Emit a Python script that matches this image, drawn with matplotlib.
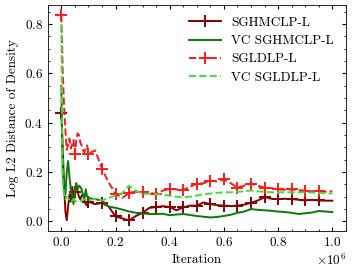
import numpy as np
import matplotlib
matplotlib.use("Agg")
from matplotlib import pyplot as plt
from matplotlib.ticker import AutoMinorLocator

# iteration (in units of 1e6): fine steps early, then every 0.025
iters = [0.000, 0.005, 0.010, 0.015, 0.020, 0.025, 0.030, 0.035, 0.040, 0.045,
         0.050, 0.055, 0.060, 0.065, 0.070, 0.075, 0.080, 0.085, 0.090, 0.095,
         0.100, 0.125, 0.150, 0.175, 0.200, 0.225, 0.250, 0.275, 0.300, 0.325,
         0.350, 0.375, 0.400, 0.425, 0.450, 0.475, 0.500, 0.525, 0.550, 0.575,
         0.600, 0.625, 0.650, 0.675, 0.700, 0.725, 0.750, 0.775, 0.800, 0.825,
         0.850, 0.875, 0.900, 0.925, 0.950, 0.975, 1.000]

sghmc = [0.440, 0.300, 0.150, 0.040, 0.005, 0.060, 0.110, 0.080, 0.140, 0.100,
         0.120, 0.155, 0.120, 0.100, 0.090, 0.105, 0.110, 0.085, 0.070, 0.065,
         0.080, 0.070, 0.075, 0.060, 0.020, 0.012, 0.004, 0.022, 0.035, 0.055,
         0.058, 0.062, 0.058, 0.045, 0.057, 0.064, 0.064, 0.077, 0.070, 0.066,
         0.064, 0.062, 0.064, 0.068, 0.075, 0.085, 0.098, 0.092, 0.090, 0.092,
         0.090, 0.088, 0.085, 0.087, 0.085, 0.084, 0.084]

vc_sghmc = [0.550, 0.200, 0.150, 0.110, 0.200, 0.245, 0.180, 0.130, 0.100, 0.070,
            0.120, 0.150, 0.130, 0.145, 0.140, 0.130, 0.105, 0.090, 0.130, 0.100,
            0.095, 0.090, 0.085, 0.060, 0.055, 0.048, 0.040, 0.035, 0.032, 0.030,
            0.030, 0.031, 0.025, 0.028, 0.030, 0.026, 0.022, 0.019, 0.016, 0.018,
            0.022, 0.027, 0.035, 0.040, 0.050, 0.047, 0.045, 0.043, 0.040, 0.038,
            0.035, 0.030, 0.033, 0.036, 0.042, 0.040, 0.038]

sgld = [0.836, 0.610, 0.470, 0.370, 0.290, 0.310, 0.336, 0.296, 0.310, 0.330,
        0.275, 0.330, 0.357, 0.350, 0.320, 0.308, 0.288, 0.280, 0.296, 0.308,
        0.275, 0.288, 0.214, 0.157, 0.113, 0.095, 0.117, 0.120, 0.118, 0.115,
        0.112, 0.125, 0.132, 0.130, 0.128, 0.140, 0.153, 0.155, 0.165, 0.162,
        0.170, 0.155, 0.137, 0.145, 0.153, 0.145, 0.137, 0.135, 0.130, 0.128,
        0.130, 0.127, 0.125, 0.122, 0.125, 0.120, 0.122]

vc_sgld = [0.800, 0.160, 0.110, 0.090, 0.100, 0.095, 0.085, 0.080, 0.085, 0.090,
           0.085, 0.080, 0.078, 0.080, 0.082, 0.085, 0.088, 0.090, 0.088, 0.085,
           0.085, 0.092, 0.085, 0.095, 0.105, 0.115, 0.145, 0.125, 0.112, 0.112,
           0.110, 0.108, 0.104, 0.100, 0.098, 0.100, 0.105, 0.110, 0.113, 0.116,
           0.118, 0.118, 0.120, 0.122, 0.125, 0.122, 0.120, 0.118, 0.118, 0.118,
           0.118, 0.118, 0.118, 0.117, 0.116, 0.114, 0.113]

labels = ["SGHMCLP-L", "VC SGHMCLP-L", "SGLDLP-L", "VC SGLDLP-L"]

plt.rcParams.update({
    "font.family": "serif",
    "font.serif": ["cmr10"],
    "mathtext.fontset": "cm",
    "axes.unicode_minus": False,
    "axes.formatter.use_mathtext": True,
    "font.size": 9.5,
    "xtick.direction": "in",
    "ytick.direction": "in",
    "xtick.top": True,
    "ytick.right": True,
    "xtick.major.size": 3,
    "ytick.major.size": 3,
    "xtick.minor.size": 1.5,
    "ytick.minor.size": 1.5,
    "xtick.minor.visible": True,
    "ytick.minor.visible": True,
    "axes.linewidth": 0.6,
})

x = np.array(iters) * 1e6
marks = [i for i, v in enumerate(iters) if np.isclose(v / 0.05, round(v / 0.05)) and v < 0.99]

fig = plt.figure(figsize=(3.54, 2.73), dpi=100)
ax = fig.add_axes([0.135, 0.155, 0.842, 0.827])

ax.plot(x, sghmc, color="#8b0000", lw=1.4, marker="+", ms=8, mew=1.4, markevery=marks, label=labels[0])
ax.plot(x, vc_sghmc, color="#0a7a0a", lw=1.4, label=labels[1])
ax.plot(x, sgld, color="#ff1a1a", lw=1.4, ls="--", marker="+", ms=8, mew=1.4, markevery=marks, label=labels[2])
ax.plot(x, vc_sgld, color="#3ee03e", lw=1.4, ls="--", label=labels[3])

ax.set_xticks(np.arange(0, 1.01, 0.2) * 1e6)
ax.set_yticks([0.0, 0.2, 0.4, 0.6, 0.8])
ax.xaxis.set_minor_locator(AutoMinorLocator(4))
ax.yaxis.set_minor_locator(AutoMinorLocator(4))
ax.ticklabel_format(axis="x", style="sci", scilimits=(0, 0))
ax.set_xlabel("Iteration")
ax.set_ylabel("Log L2 Distance of Density")
ax.legend(loc="upper right", frameon=False, handlelength=2.4, labelspacing=0.45)

fig.savefig("out.png", dpi=100)
